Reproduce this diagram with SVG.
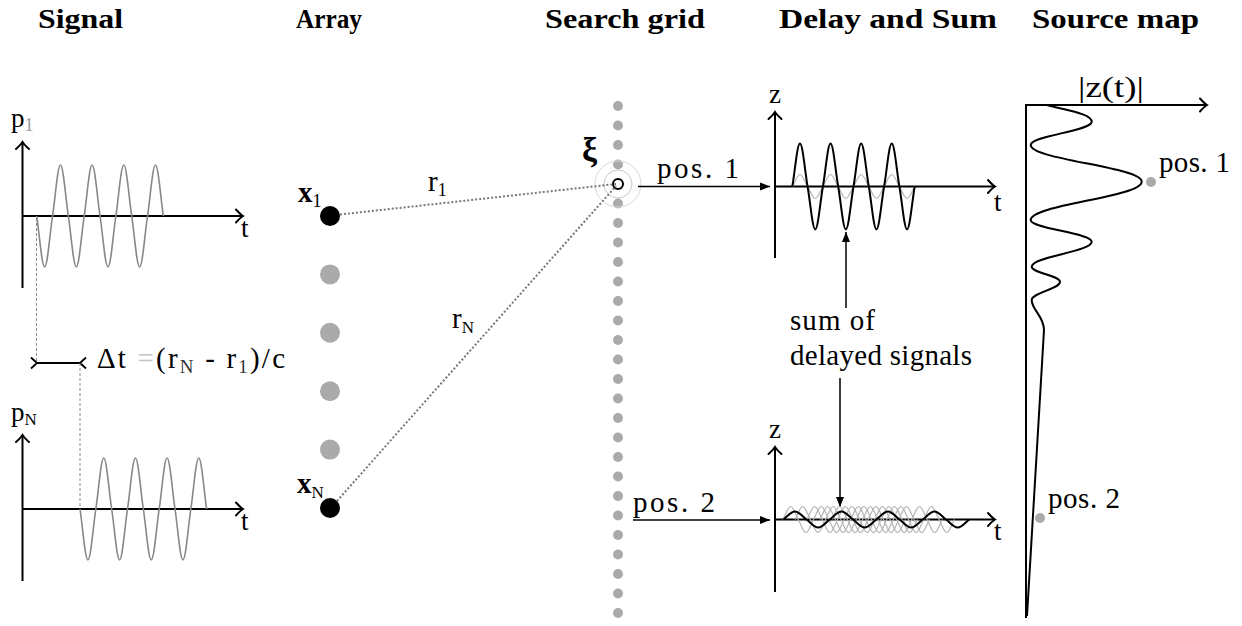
<svg xmlns="http://www.w3.org/2000/svg" width="1242" height="626" viewBox="0 0 1242 626">
<style>
text{font-family:'Liberation Serif','DejaVu Serif',serif}
.title{font-weight:bold;font-size:27px;fill:#000}
.lab{font-size:29px;fill:#000}
.ax{font-size:27px;fill:#000}
.axis{stroke:#000;stroke-width:2;fill:none}
.wave{fill:none;stroke:#888;stroke-width:1.6}
.bw{fill:none;stroke:#000;stroke-width:2}
.gw{fill:none;stroke:#b5b5b5;stroke-width:1.2}
.gdot{fill:#aaa}
.dotline{stroke:#777;stroke-width:2;stroke-dasharray:2 2;fill:none}
.dash{stroke:#888;stroke-width:1;stroke-dasharray:3 2;fill:none}
.arr{stroke:#000;stroke-width:1.5;fill:none}
</style>
<defs>
<marker id="open" markerUnits="userSpaceOnUse" viewBox="-10 -8 12 16" refX="0" refY="0" markerWidth="12" markerHeight="16" orient="auto" overflow="visible">
<path d="M-7,-6.5 Q-2.5,-1.5 0,0 Q-2.5,1.5 -7,6.5" fill="none" stroke="#000" stroke-width="2" stroke-linecap="round"/>
</marker>
<marker id="tri" markerUnits="userSpaceOnUse" viewBox="-11 -5 12 10" refX="0" refY="0" markerWidth="12" markerHeight="10" orient="auto" overflow="visible">
<path d="M-10,-4 L0,0 L-10,4 Z" fill="#000"/>
</marker>
<path id="sigwave" d="M0,0 c2.582,16.63 5.052,51 7.917,51 s5.335,-34.37 7.917,-51 s5.052,-51 7.917,-51 s5.335,34.37 7.917,51 s5.052,51 7.917,51 s5.335,-34.37 7.917,-51 s5.052,-51 7.917,-51 s5.335,34.37 7.917,51 s5.052,51 7.917,51 s5.335,-34.37 7.917,-51 s5.052,-51 7.917,-51 s5.335,34.37 7.917,51 s5.052,51 7.917,51 s5.335,-34.37 7.917,-51 s5.052,-51 7.917,-51 s5.335,34.37 7.917,51"/>
<path id="d1black" d="M0,0 c2.495,-14.02 4.881,-43 7.65,-43 s5.155,28.98 7.65,43 s4.881,43 7.65,43 s5.155,-28.98 7.65,-43 s4.881,-43 7.65,-43 s5.155,28.98 7.65,43 s4.881,43 7.65,43 s5.155,-28.98 7.65,-43 s4.881,-43 7.65,-43 s5.155,28.98 7.65,43 s4.881,43 7.65,43 s5.155,-28.98 7.65,-43 s4.881,-43 7.65,-43 s5.155,28.98 7.65,43 s4.881,43 7.65,43 s5.155,-28.98 7.65,-43"/>
<path id="d1gray" d="M0,0 c2.495,-3.913 4.881,-12 7.65,-12 s5.155,8.087 7.65,12 s4.881,12 7.65,12 s5.155,-8.087 7.65,-12 s4.881,-12 7.65,-12 s5.155,8.087 7.65,12 s4.881,12 7.65,12 s5.155,-8.087 7.65,-12 s4.881,-12 7.65,-12 s5.155,8.087 7.65,12 s4.881,12 7.65,12 s5.155,-8.087 7.65,-12 s4.881,-12 7.65,-12 s5.155,8.087 7.65,12 s4.881,12 7.65,12 s5.155,-8.087 7.65,-12"/>
<path id="d2black" d="M0,0 c3.791,-2.609 7.418,-8 11.625,-8 s7.834,5.391 11.625,8 s7.418,8 11.625,8 s7.834,-5.391 11.625,-8 s7.418,-8 11.625,-8 s7.834,5.391 11.625,8 s7.418,8 11.625,8 s7.834,-5.391 11.625,-8 s7.418,-8 11.625,-8 s7.834,5.391 11.625,8 s7.418,8 11.625,8 s7.834,-5.391 11.625,-8 s7.418,-8 11.625,-8 s7.834,5.391 11.625,8 s7.418,8 11.625,8 s7.834,-5.391 11.625,-8"/>
<path id="d2gray" d="M0,0 c2.495,-4.239 4.881,-13 7.65,-13 s5.155,8.761 7.65,13 s4.881,13 7.65,13 s5.155,-8.761 7.65,-13 s4.881,-13 7.65,-13 s5.155,8.761 7.65,13 s4.881,13 7.65,13 s5.155,-8.761 7.65,-13 s4.881,-13 7.65,-13 s5.155,8.761 7.65,13 s4.881,13 7.65,13 s5.155,-8.761 7.65,-13 s4.881,-13 7.65,-13 s5.155,8.761 7.65,13 s4.881,13 7.65,13 s5.155,-8.761 7.65,-13"/>
</defs>
<rect width="1242" height="626" fill="#fff"/>

<g id="titles">
<text class="title" x="38" y="28" textLength="85" lengthAdjust="spacingAndGlyphs">Signal</text>
<text class="title" x="296" y="28" textLength="66" lengthAdjust="spacingAndGlyphs">Array</text>
<text class="title" x="545" y="28" textLength="160" lengthAdjust="spacingAndGlyphs">Search grid</text>
<text class="title" x="779" y="28" textLength="218" lengthAdjust="spacingAndGlyphs">Delay and Sum</text>
<text class="title" x="1032" y="28" textLength="167" lengthAdjust="spacingAndGlyphs">Source map</text>
</g>

<g id="signal1">
<line class="axis" x1="22.5" y1="288" x2="22.5" y2="142" marker-end="url(#open)"/>
<line class="axis" x1="22" y1="216" x2="243" y2="216" marker-end="url(#open)"/>
<use href="#sigwave" x="36.7" y="216" class="wave"/>
<text class="ax" x="11" y="127">p<tspan font-size="18" dy="4" fill="#999">1</tspan></text>
<text class="ax" x="241" y="237">t</text>
</g>

<g id="signal2">
<line class="axis" x1="22.5" y1="581" x2="22.5" y2="435" marker-end="url(#open)"/>
<line class="axis" x1="22" y1="509" x2="243" y2="509" marker-end="url(#open)"/>
<use href="#sigwave" x="80" y="509" class="wave"/>
<text class="ax" x="11" y="421">p<tspan font-size="17" dy="4">N</tspan></text>
<text class="ax" x="241" y="530">t</text>
</g>

<g id="delta-t">
<line x1="36" y1="363" x2="80" y2="363" stroke="#000" stroke-width="2"/>
<path d="M31,357.5 L37,363 L31,368.5" fill="none" stroke="#000" stroke-width="1.8"/>
<path d="M86,357.5 L80,363 L86,368.5" fill="none" stroke="#000" stroke-width="1.8"/>
<text class="lab" x="97" y="368" textLength="188" lengthAdjust="spacing">Δt <tspan fill="#c4c4c4">=</tspan>(r<tspan font-size="19" dy="5" fill="#333">N</tspan><tspan dy="-5"> - r</tspan><tspan font-size="19" dy="5" fill="#333">1</tspan><tspan dy="-5">)/c</tspan></text>
</g>

<g id="array">
<circle cx="330" cy="216" r="10" fill="#000"/>
<circle cx="330" cy="274.4" r="10" class="gdot"/>
<circle cx="330" cy="332.8" r="10" class="gdot"/>
<circle cx="330" cy="391.2" r="10" class="gdot"/>
<circle cx="330" cy="449.6" r="10" class="gdot"/>
<circle cx="330" cy="508" r="10" fill="#000"/>
<text class="lab" x="298" y="202" font-weight="bold">x<tspan font-weight="normal" font-size="18" dy="5">1</tspan></text>
<text class="lab" x="297" y="493" font-weight="bold">x<tspan font-weight="normal" font-size="17" dy="5">N</tspan></text>
</g>

<g id="search-grid">
<circle cx="618" cy="106" r="5" class="gdot"/>
<circle cx="618" cy="125.5" r="5" class="gdot"/>
<circle cx="618" cy="145" r="5" class="gdot"/>
<circle cx="618" cy="164.5" r="5" class="gdot"/>
<circle cx="618" cy="184" r="5" class="gdot"/>
<circle cx="618" cy="203.5" r="5" class="gdot"/>
<circle cx="618" cy="223" r="5" class="gdot"/>
<circle cx="618" cy="242.5" r="5" class="gdot"/>
<circle cx="618" cy="262" r="5" class="gdot"/>
<circle cx="618" cy="281.5" r="5" class="gdot"/>
<circle cx="618" cy="301" r="5" class="gdot"/>
<circle cx="618" cy="320.5" r="5" class="gdot"/>
<circle cx="618" cy="340" r="5" class="gdot"/>
<circle cx="618" cy="359.5" r="5" class="gdot"/>
<circle cx="618" cy="379" r="5" class="gdot"/>
<circle cx="618" cy="398.5" r="5" class="gdot"/>
<circle cx="618" cy="418" r="5" class="gdot"/>
<circle cx="618" cy="437.5" r="5" class="gdot"/>
<circle cx="618" cy="457" r="5" class="gdot"/>
<circle cx="618" cy="476.5" r="5" class="gdot"/>
<circle cx="618" cy="496" r="5" class="gdot"/>
<circle cx="618" cy="515.5" r="5" class="gdot"/>
<circle cx="618" cy="535" r="5" class="gdot"/>
<circle cx="618" cy="554.5" r="5" class="gdot"/>
<circle cx="618" cy="574" r="5" class="gdot"/>
<circle cx="618" cy="593.5" r="5" class="gdot"/>
<circle cx="618" cy="613" r="5" class="gdot"/>
<circle cx="618" cy="184" r="23" fill="none" stroke="#d8d8d8" stroke-width="1"/>
<circle cx="618" cy="184" r="14" fill="none" stroke="#c8c8c8" stroke-width="1"/>
<circle cx="618" cy="184" r="5" fill="#fff" stroke="#000" stroke-width="2"/>
<text class="lab" x="582" y="161" font-size="34px" font-weight="bold" style="font-size:34px">ξ</text>
</g>

<g id="connectors">
<line class="dotline" x1="340" y1="214.5" x2="616" y2="184"/>
<line class="dotline" x1="337" y1="501" x2="616" y2="186"/>
<text class="lab" x="428" y="191">r<tspan font-size="18" dy="5">1</tspan></text>
<text class="lab" x="452" y="328">r<tspan font-size="17" dy="5">N</tspan></text>
<line class="dash" x1="36.5" y1="218" x2="36.5" y2="363"/>
<line class="dash" x1="80" y1="363" x2="80" y2="507"/>
<line class="arr" x1="638" y1="186.5" x2="770" y2="186.5" marker-end="url(#tri)"/>
<line class="arr" x1="633" y1="520" x2="770" y2="520" marker-end="url(#tri)"/>
<text class="lab" x="657" y="178" textLength="82" lengthAdjust="spacing">pos. 1</text>
<text class="lab" x="633" y="512" textLength="82" lengthAdjust="spacing">pos. 2</text>
<line class="arr" x1="846" y1="308" x2="846" y2="232" marker-end="url(#tri)"/>
<line class="arr" x1="840" y1="378" x2="840" y2="507" marker-end="url(#tri)"/>
</g>

<g id="delay-sum-1">
<line class="axis" x1="775" y1="258" x2="775" y2="112" marker-end="url(#open)"/>
<line class="axis" x1="775" y1="186.5" x2="995" y2="186.5" marker-end="url(#open)"/>
<use href="#d1gray" x="792.3" y="186.5" class="gw"/>
<use href="#d1black" x="792.3" y="186.5" class="bw"/>
<text class="ax" x="769" y="103">z</text>
<text class="ax" x="994" y="211">t</text>
</g>

<g id="sum-label">
<text class="lab" x="790" y="330" textLength="85" lengthAdjust="spacing">sum of</text>
<text class="lab" x="790" y="365" textLength="182" lengthAdjust="spacing">delayed signals</text>
</g>

<g id="delay-sum-2">
<line class="axis" x1="775" y1="592" x2="775" y2="447" marker-end="url(#open)"/>
<line class="axis" x1="775" y1="519.5" x2="995" y2="519.5" marker-end="url(#open)"/>
<use href="#d2gray" x="783" y="519.5" class="gw"/>
<use href="#d2gray" x="795" y="519.5" class="gw"/>
<use href="#d2gray" x="807" y="519.5" class="gw"/>
<use href="#d2gray" x="820" y="519.5" class="gw"/>
<use href="#d2gray" x="832" y="519.5" class="gw"/>
<use href="#d2black" x="783.3" y="519.5" class="bw"/>
<text class="ax" x="769" y="438">z</text>
<text class="ax" x="994" y="540">t</text>
</g>

<g id="source-map">
<line class="axis" x1="1026" y1="618" x2="1026" y2="105"/>
<line class="axis" x1="1025" y1="105" x2="1207" y2="105" marker-end="url(#open)"/>
<path class="bw" d="M1046.7,105 C1070,111 1091.7,114 1091.7,121.7 C1091.7,131 1030.7,135.7 1030.7,145 C1030.7,159.7 1141.7,167 1141.7,181.7 C1141.7,197 1030.7,204.7 1030.7,220 C1030.7,228.7 1091.7,233 1091.7,241.7 C1091.7,251.7 1031.7,256.7 1031.7,266.7 C1031.7,272.7 1060,275.7 1060,281.7 C1060,289 1031.7,292.7 1031.7,300 C1031.7,310 1044,316 1044,330 L1027,616"/>
<text class="ax" x="1078" y="97" style="font-size:30px" textLength="66" lengthAdjust="spacingAndGlyphs">|z(t)|</text>
<circle cx="1151" cy="182" r="5" class="gdot"/>
<circle cx="1040" cy="518" r="5" class="gdot"/>
<text class="lab" x="1159" y="172" textLength="71" lengthAdjust="spacing">pos. 1</text>
<text class="lab" x="1048" y="508" textLength="72" lengthAdjust="spacing">pos. 2</text>
</g>
</svg>
